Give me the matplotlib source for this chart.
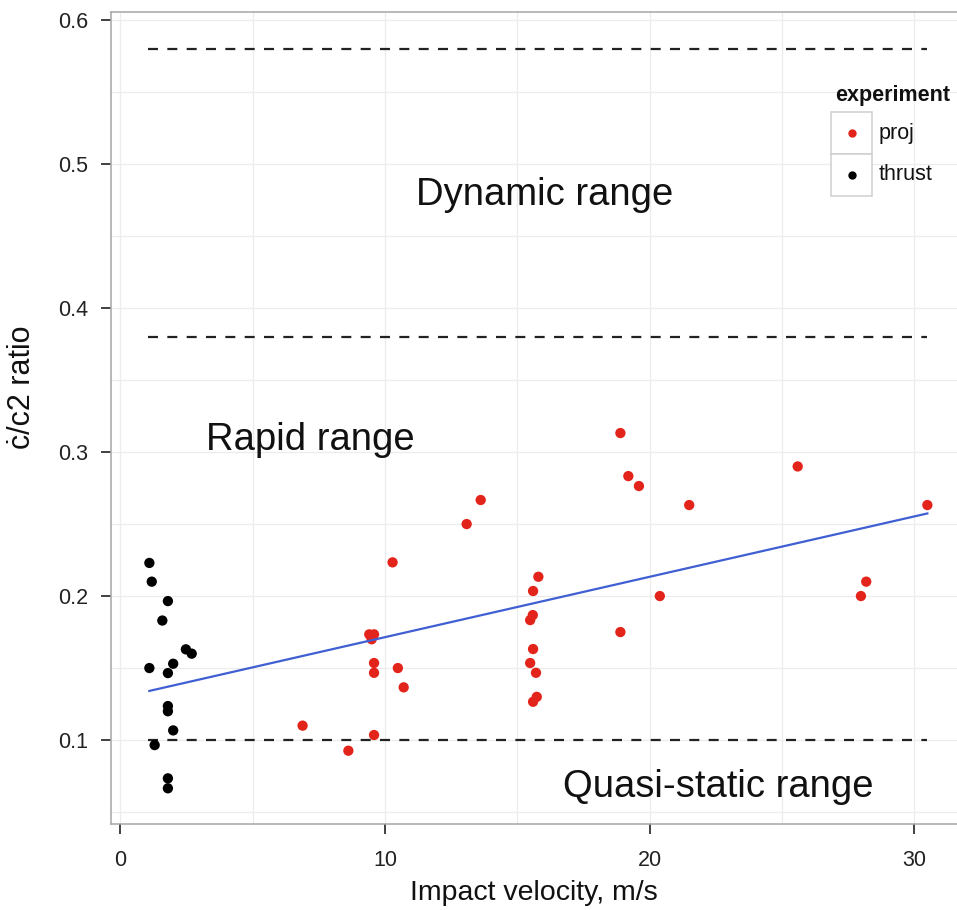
import numpy as np
import matplotlib
matplotlib.use("Agg")
import matplotlib.pyplot as plt
from matplotlib.patches import Rectangle
from matplotlib.lines import Line2D

plt.rcParams['font.family'] = ['Liberation Sans', 'DejaVu Sans']

# ---- data ----
categories = ["proj", "thrust"]
colors = ["#E3241B", "#000000"]

proj_x = [6.89, 8.62, 9.41, 9.59, 9.50, 9.59, 9.59, 9.59, 10.29, 10.49, 10.71,
          13.09, 13.62, 15.80, 15.60, 15.59, 15.49, 15.60, 15.49, 15.71, 15.74,
          15.60, 18.90, 19.20, 19.60, 21.50, 25.60, 30.50, 20.39, 18.90, 27.99, 28.19]
proj_y = [0.110, 0.0926, 0.1734, 0.1734, 0.170, 0.1535, 0.1467, 0.1035, 0.2234,
          0.150, 0.1366, 0.250, 0.2667, 0.2134, 0.2035, 0.1868, 0.1833, 0.1632,
          0.1535, 0.1467, 0.130, 0.1266, 0.3132, 0.2833, 0.2764, 0.2632, 0.290,
          0.2632, 0.200, 0.175, 0.200, 0.210]

thrust_x = [1.10, 1.19, 1.80, 1.59, 2.48, 2.70, 1.10, 2.00, 1.80, 1.80, 1.80,
            2.00, 1.30, 1.80, 1.80]
thrust_y = [0.223, 0.210, 0.1965, 0.183, 0.163, 0.160, 0.150, 0.153, 0.1465,
            0.1236, 0.120, 0.1067, 0.0965, 0.0734, 0.0665]

range_levels = [0.58, 0.38, 0.10]
range_x = [1.05, 30.5]
range_labels = ["Dynamic range", "Rapid range", "Quasi-static range"]
range_label_x = [16.05, 7.18, 22.6]
range_label_y = [0.4785, 0.3083, 0.0674]

x_ticks = [0, 10, 20, 30]
y_ticks = [0.1, 0.2, 0.3, 0.4, 0.5, 0.6]

# ---- figure ----
W, H = 957, 910
fig = plt.figure(figsize=(W / 100, H / 100), dpi=100)
L, R, T, B = 111, 957, 12, 824
ax = fig.add_axes([L / W, 1 - B / H, (R - L) / W, (B - T) / H])
ax.set_xlim(-0.35, 31.62)
ax.set_ylim(0.0417, 0.6056)

# grid
ax.set_xticks(x_ticks)
ax.set_yticks(y_ticks)
ax.set_xticks([5, 15, 25], minor=True)
ax.set_yticks([0.05, 0.15, 0.25, 0.35, 0.45, 0.55], minor=True)
ax.grid(True, which='both', color='#ececec', linewidth=0.9, zorder=0)
ax.set_axisbelow(True)
ax.tick_params(which='minor', length=0)
ax.tick_params(which='major', length=7, width=1.3, color='#333333',
               labelsize=15.5, labelcolor='#222222')
ax.tick_params(axis='y', pad=9.5)
ax.tick_params(axis='x', pad=11.5)
ax.set_xticklabels([str(v) for v in x_ticks])
ax.set_yticklabels([f"{v:.1f}" for v in y_ticks])

for s in ['left', 'bottom', 'top']:
    ax.spines[s].set_color('#a6a6a6')
    ax.spines[s].set_linewidth(1.1)
ax.spines['right'].set_visible(False)

# range lines
for lvl in range_levels:
    ax.plot(range_x, [lvl, lvl], color='#222222', lw=1.6,
            linestyle=(0, (4.5, 4.2)), zorder=2)
for txt, tx, ty in zip(range_labels, range_label_x, range_label_y):
    ax.text(tx, ty, txt, fontsize=27.5, ha='center', va='center',
            color='#111111', zorder=3)

# points
ax.scatter(proj_x, proj_y, s=55, color=colors[0], edgecolors='none', zorder=4)
ax.scatter(thrust_x, thrust_y, s=55, color=colors[1], edgecolors='none', zorder=4)

# linear fit on all points
all_x = np.array(proj_x + thrust_x)
all_y = np.array(proj_y + thrust_y)
slope, intercept = np.polyfit(all_x, all_y, 1)
fx = np.array([all_x.min(), all_x.max()])
ax.plot(fx, intercept + slope * fx, color='#3F5FD3', lw=1.6, zorder=5)

ax.set_xlabel("Impact velocity, m/s", fontsize=20.5, color='#111111', labelpad=7)
ax.set_ylabel("ċ/c2 ratio", fontsize=22, color='#111111')
ax.yaxis.set_label_coords(-0.0875, 0.5376)

# legend (ggplot style, drawn manually)
def px(x, y):
    return x / W, 1 - y / H

fig.text(*px(835, 96), "experiment", fontsize=15.5, fontweight='bold',
         ha='left', va='center', color='#111111')
box_top = [112, 154]
for i, (name, col) in enumerate(zip(categories, colors)):
    y0 = box_top[i]
    bx, by = px(831, y0 + 42)
    fig.add_artist(Rectangle((bx, by), 41 / W, 42 / H, transform=fig.transFigure,
                             facecolor='white', edgecolor='#cfcfcf', lw=1.1))
    mx, my = px(852, y0 + 21)
    fig.add_artist(Line2D([mx], [my], marker='o', markersize=6, color=col,
                          markeredgewidth=0, transform=fig.transFigure))
    fig.text(*px(879, y0 + 21), name, fontsize=15.5, ha='left', va='center',
             color='#111111')

fig.savefig("out.png", dpi=100)
